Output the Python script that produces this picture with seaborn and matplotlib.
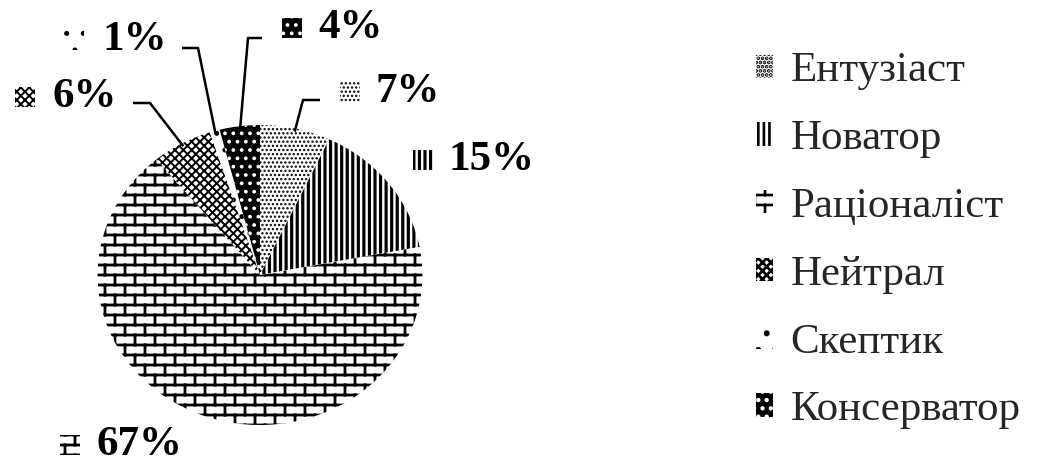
import warnings
import numpy as np
import matplotlib
matplotlib.use('Agg')
import matplotlib.pyplot as plt
import matplotlib.hatch as mhatch
from matplotlib.path import Path
from matplotlib.patches import Rectangle
from matplotlib.transforms import Affine2D
import seaborn as sns

warnings.filterwarnings('ignore')

# ---------------- data ----------------
categories = ['Ентузіаст', 'Новатор', 'Раціоналіст', 'Нейтрал', 'Скептик', 'Консерватор']
values = [7, 15, 67, 6, 1, 4]
pct_labels = ['7%', '15%', '67%', '6%', '1%', '4%']


# ---------------- custom brick hatch ----------------
class BrickHatch(mhatch.HatchPatternBase):
    def __init__(self, hatch, density):
        n = hatch.count('b')
        self.rows = 10 if n else 0
        self.cols = 5
        if self.rows:
            self.num_vertices = self.rows * 2 + self.rows * self.cols * 2 + self.cols * 2
        else:
            self.num_vertices = 0

    def set_vertices_and_codes(self, vertices, codes):
        pts = []
        h = 1.0 / self.rows
        for i in range(self.rows):
            y = (i + 0.5) * h
            pts += [(0.0, y), (1.0, y)]
        for i in range(self.rows):
            y0 = (i + 0.5) * h
            y1 = y0 + h
            off = 0.25 + 0.5 * (i % 2)
            for j in range(self.cols):
                x = (j + off) / self.cols
                if y1 <= 1.0:
                    pts += [(x, y0), (x, y1)]
                else:
                    pts += [(x, y0), (x, 1.0), (x, 0.0), (x, y1 - 1.0)]
        vertices[:] = np.array(pts)
        codes[0::2] = Path.MOVETO
        codes[1::2] = Path.LINETO


mhatch._hatch_types.append(BrickHatch)

# ---------------- style ----------------
sns.set_theme(style='white')
plt.rcParams['font.family'] = ['Liberation Serif', 'DejaVu Serif']
plt.rcParams['hatch.linewidth'] = 1.9

W, H = 1041, 463
fig = plt.figure(figsize=(W / 100, H / 100), dpi=100)
ax = fig.add_axes([0, 0, 1, 1])

styles = {
    'Ентузіаст':   dict(fc='white', ec='black', hatch='....', hlw=1.1),
    'Новатор':     dict(fc='white', ec='black', hatch='|||', hlw=2.3),
    'Раціоналіст': dict(fc='white', ec='black', hatch='b', hlw=2.0),
    'Нейтрал':     dict(fc='white', ec='black', hatch='xxxx', hlw=1.4),
    'Скептик':     dict(fc='white', ec='black', hatch='.', hlw=1.2),
    'Консерватор': dict(fc='black', ec='white', hatch='..', hlw=1.5),
}


def style_patch(p, st):
    p.set_facecolor(st['fc'])
    p.set_edgecolor(st['ec'])
    p.set_hatch(st['hatch'])
    p.set_linewidth(0)
    if hasattr(p, 'set_hatch_linewidth'):
        p.set_hatch_linewidth(st['hlw'])


cx, cy_px, R, SX = 260, 275, 150, 1.083
cy = H - cy_px

wedges, _ = ax.pie(values, startangle=90, counterclock=False,
                   center=(cx, cy), radius=R,
                   wedgeprops=dict(linewidth=0))

stretch = Affine2D().translate(-cx, -cy).scale(SX, 1).translate(cx, cy)
for w, cat in zip(wedges, categories):
    style_patch(w, styles[cat])
    w.set_transform(stretch + ax.transData)

ax.set_xlim(0, W)
ax.set_ylim(0, H)
ax.set_aspect('auto')
ax.axis('off')

# ---------------- percentage labels ----------------
label_layout = {
    'Ентузіаст':   dict(tx=376, ty=92, kx=340, leader=[(320, 100), (303, 100)]),
    'Новатор':     dict(tx=448, ty=160, kx=413, leader=None),
    'Раціоналіст': dict(tx=96, ty=445, kx=60, leader=None),
    'Нейтрал':     dict(tx=53, ty=97, kx=15, leader=[(133, 103), (150, 103)]),
    'Скептик':     dict(tx=103, ty=40, kx=64, leader=[(182, 48), (198, 48)]),
    'Консерватор': dict(tx=318, ty=28, kx=282, leader=[(262, 38), (248, 38)]),
}

for w, cat, lab in zip(wedges, categories, pct_labels):
    lay = label_layout[cat]
    st = styles[cat]
    ax.text(lay['tx'], H - lay['ty'], lab, ha='left', va='center',
            fontsize=31, fontweight='bold', color='black')
    key = Rectangle((lay['kx'], H - lay['ty'] - 10), 20, 20)
    style_patch(key, st)
    ax.add_patch(key)
    if lay['leader']:
        mid = np.deg2rad((w.theta1 + w.theta2) / 2)
        ax_pt = (cx + SX * 0.98 * R * np.cos(mid), cy + 0.98 * R * np.sin(mid))
        xs = [p[0] for p in lay['leader']] + [ax_pt[0]]
        ys = [H - p[1] for p in lay['leader']] + [ax_pt[1]]
        ax.plot(xs, ys, color='black', lw=1.8, solid_capstyle='butt')

# ---------------- legend ----------------
leg = ax.legend(wedges, categories, loc='upper left',
                bbox_to_anchor=(756 / W, 1 - 52 / H),
                frameon=False, fontsize=31, borderpad=0, borderaxespad=0,
                handlelength=0.4, handleheight=0.45, handletextpad=0.4,
                labelspacing=0.68)

fig.savefig('out.png', dpi=100, facecolor='white')
